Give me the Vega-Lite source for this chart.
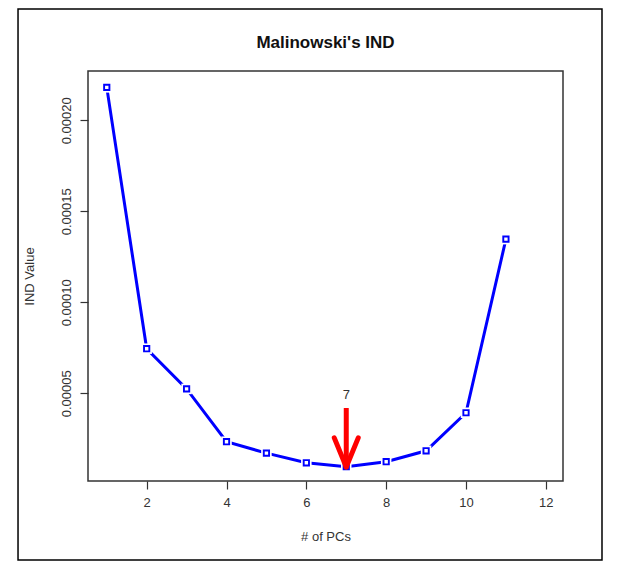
{
  "$schema": "https://vega.github.io/schema/vega-lite/v6.json",
  "width": 475,
  "height": 410,
  "autosize": "none",
  "padding": {"left": 88, "top": 71, "right": 54, "bottom": 95},
  "background": "white",
  "title": {"text": "Malinowski's IND", "fontSize": 17, "fontWeight": "bold", "font": "Liberation Sans", "color": "#111111", "offset": -44, "anchor": "middle", "frame": "group"},
  "config": {
    "view": {"stroke": "#333333", "strokeWidth": 1.5},
    "font": "Liberation Sans"
  },
  "data": {"values": [
    {"pc": 1, "ind": 0.0002181},
    {"pc": 2, "ind": 0.0000745},
    {"pc": 3, "ind": 0.0000524},
    {"pc": 4, "ind": 0.0000234},
    {"pc": 5, "ind": 0.0000171},
    {"pc": 6, "ind": 0.0000118},
    {"pc": 7, "ind": 0.0000097},
    {"pc": 8, "ind": 0.0000124},
    {"pc": 9, "ind": 0.0000184},
    {"pc": 10, "ind": 0.0000393},
    {"pc": 11, "ind": 0.0001347}
  ]},
  "layer": [
    {
      "mark": {"type": "line", "color": "#0000FF", "strokeWidth": 3},
      "encoding": {
        "x": {"field": "pc", "type": "quantitative", "title": "# of PCs",
          "scale": {"domain": [0.53, 12.43], "nice": false, "zero": false},
          "axis": {"values": [2, 4, 6, 8, 10, 12], "format": "d", "grid": false, "domain": false,
            "tickColor": "#333333", "tickSize": 8, "tickWidth": 1.2, "labelPadding": 7, "labelFontSize": 13,
            "labelColor": "#333333", "labelFont": "Liberation Sans", "titleFont": "Liberation Sans",
            "titleFontSize": 13, "titleFontWeight": "normal", "titleColor": "#333333", "titlePadding": 21}},
        "y": {"field": "ind", "type": "quantitative", "title": "IND Value",
          "scale": {"domain": [0.0000018, 0.0002271], "nice": false, "zero": false},
          "axis": {"values": [0.00005, 0.0001, 0.00015, 0.0002], "format": ".5f", "grid": false, "domain": false,
            "tickColor": "#333333", "tickSize": 8, "tickWidth": 1.2, "labelPadding": 7, "labelFontSize": 13,
            "labelAngle": 270, "labelAlign": "center", "labelBaseline": "bottom",
            "labelColor": "#333333", "labelFont": "Liberation Sans", "titleFont": "Liberation Sans",
            "titleFontSize": 13, "titleFontWeight": "normal", "titleColor": "#333333", "titlePadding": 24}}
      }
    },
    {
      "mark": {"type": "point", "shape": "square", "size": 110, "filled": true, "color": "white", "opacity": 1, "strokeWidth": 0},
      "encoding": {
        "x": {"field": "pc", "type": "quantitative"},
        "y": {"field": "ind", "type": "quantitative"}
      }
    },
    {
      "mark": {"type": "point", "shape": "square", "size": 28, "filled": false, "stroke": "#0000FF", "fill": "white", "fillOpacity": 1, "strokeWidth": 1.9, "opacity": 1},
      "encoding": {
        "x": {"field": "pc", "type": "quantitative"},
        "y": {"field": "ind", "type": "quantitative"}
      }
    },
    {
      "data": {"values": [{}]},
      "layer": [
        {
          "mark": {"type": "rect", "fill": null, "stroke": "#000000", "strokeWidth": 1.5},
          "encoding": {
            "x": {"datum": -1.223}, "x2": {"datum": 13.407},
            "y": {"datum": 0.00026117}, "y2": {"datum": -0.0000416}
          }
        },
        {
          "mark": {"type": "rule", "color": "#FF0000", "strokeWidth": 5},
          "encoding": {
            "x": {"datum": 7},
            "y": {"datum": 0.0000419}, "y2": {"datum": 0.0000095}
          }
        },
        {
          "mark": {"type": "rule", "color": "#FF0000", "strokeWidth": 5, "strokeCap": "round"},
          "encoding": {
            "x": {"datum": 6.7}, "x2": {"datum": 7},
            "y": {"datum": 0.0000255}, "y2": {"datum": 0.0000095}
          }
        },
        {
          "mark": {"type": "rule", "color": "#FF0000", "strokeWidth": 5, "strokeCap": "round"},
          "encoding": {
            "x": {"datum": 7.3}, "x2": {"datum": 7},
            "y": {"datum": 0.0000255}, "y2": {"datum": 0.0000095}
          }
        },
        {
          "mark": {"type": "text", "text": "7", "fontSize": 13, "color": "#333333", "baseline": "middle", "align": "center"},
          "encoding": {
            "x": {"datum": 7},
            "y": {"datum": 0.0000491}
          }
        }
      ]
    }
  ]
}
